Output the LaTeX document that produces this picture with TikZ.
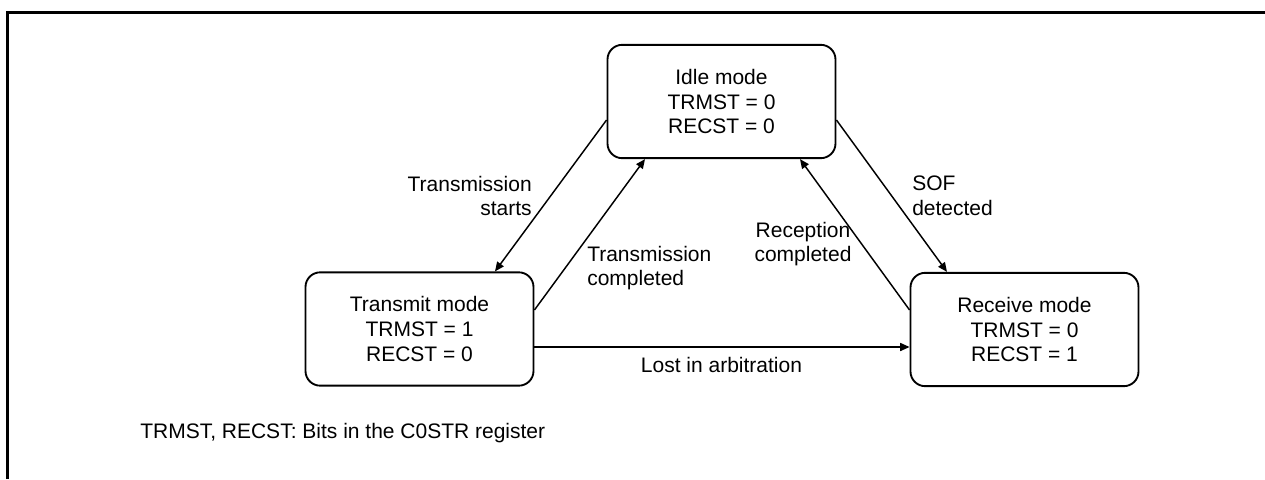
\documentclass[tikz,border=0pt]{standalone}
\usepackage{fontspec}
\setmainfont{Liberation Sans}
\usetikzlibrary{arrows.meta,calc}
\begin{document}
\begin{tikzpicture}[x=0.75pt,y=-0.75pt,
 state/.style={draw,line width=1.4pt,rounded corners=11pt,minimum width=171pt,minimum height=85pt,align=center,inner sep=0pt,font=\fontsize{15.75}{18.5}\selectfont},
 lbl/.style={inner sep=0pt,font=\fontsize{15.75}{18.5}\selectfont},
 conn/.style={line width=1.1pt,-{Triangle[length=7pt,width=6pt]}},
 frame/.style={line width=2.25pt}]
\useasboundingbox (0,0) rectangle (1265,479);
\coordinate (fa) at (7,479);
\coordinate (fb) at (7,12.5);
\coordinate (fc) at (1265,12.5);
\draw[frame] (fa) -- (fb) -- (fc);

\node[state] (idle) at (721.5,101.5) {Idle mode\\TRMST = 0\\RECST = 0};
\node[state] (tx) at (419.5,329) {Transmit mode\\TRMST = 1\\RECST = 0};
\node[state] (rx) at (1024.5,329.5) {Receive mode\\TRMST = 0\\RECST = 1};

\draw[conn] ($(idle.west)+(0,18.5)$) -- ($(tx.north)+(75.5,0)$);
\draw[conn] ($(tx.east)+(0,-19)$) -- ($(idle.south)+(-76.5,0)$);
\draw[conn] ($(idle.east)+(0,18.5)$) -- ($(rx.north)+(-77.5,0)$);
\draw[conn] ($(rx.west)+(0,-19.5)$) -- ($(idle.south)+(78.5,0)$);
\draw[conn] ($(tx.east)+(0,18)$) -- ($(rx.west)+(0,17.5)$);

\node[lbl,align=right,anchor=east] (l1) at (532,196) {Transmission\\starts};
\node[lbl,align=left,anchor=west] (l2) at (587,268) {Transmission\\completed};
\node[lbl,align=center] (l3) at (803,244) {Reception\\completed};
\node[lbl,align=left,anchor=west] (l4) at (912,196) {SOF\\detected};
\node[lbl] (l5) at (721.5,365) {Lost in arbitration};
\node[lbl,anchor=west] (note) at (140,433) {TRMST, RECST: Bits in the C0STR register};
\end{tikzpicture}
\end{document}
